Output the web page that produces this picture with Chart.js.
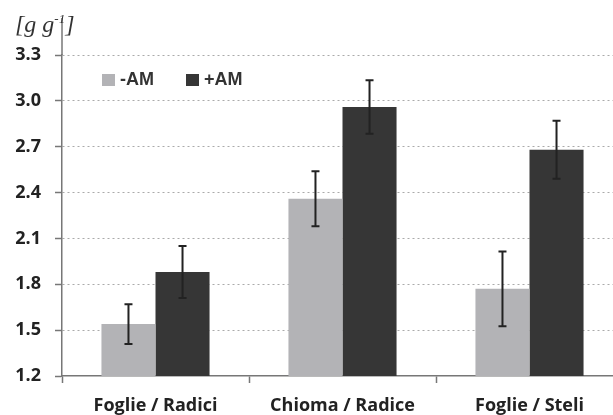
<!DOCTYPE html>
<html>
<head>
<meta charset="utf-8">
<script src="https://cdn.jsdelivr.net/npm/chart.js@4"></script>
<style>
  html, body { margin: 0; padding: 0; background: #fff; overflow: hidden; }
  #wrap { position: relative; width: 625px; height: 415px; }
  #unit {
    position: absolute; left: 15px; top: 11px;
    font-family: "Liberation Serif", serif; font-style: italic;
    font-size: 24px; color: #333;
  }
  #unit sup { font-size: 13px; }
</style>
</head>
<body>
<div id="wrap">
  <canvas id="chart" width="625" height="415"></canvas>
  <div id="unit">[g g<sup>-1</sup>]</div>
</div>
<script>
// data
const categories = ['Foglie / Radici', 'Chioma / Radice', 'Foglie / Steli'];
const seriesNames = ['-AM', '+AM'];
const minusAM = [1.54, 2.36, 1.77];
const plusAM = [1.88, 2.96, 2.68];
const minusAMErr = [0.13, 0.18, 0.245];
const plusAMErr = [0.17, 0.175, 0.19];
const yTicks = [1.2, 1.5, 1.8, 2.1, 2.4, 2.7, 3.0, 3.3];

const errors = [minusAMErr, plusAMErr];
const colors = ['#b3b3b6', '#363636'];
const labelFont = { family: 'Open Sans', size: 18, weight: 'bold' };

// Error bars
const errorBarPlugin = {
    id: 'errorBars',
    afterDatasetsDraw(chart) {
        const ctx = chart.ctx;
        const yScale = chart.scales.y;
        ctx.save();
        ctx.strokeStyle = '#222';
        ctx.lineWidth = 2;
        chart.data.datasets.forEach((ds, di) => {
            const meta = chart.getDatasetMeta(di);
            meta.data.forEach((bar, i) => {
                const v = ds.data[i];
                const e = errors[di][i];
                const top = yScale.getPixelForValue(v + e);
                const bottom = yScale.getPixelForValue(v - e);
                ctx.beginPath();
                ctx.moveTo(bar.x, top);
                ctx.lineTo(bar.x, bottom);
                ctx.moveTo(bar.x - 4, top);
                ctx.lineTo(bar.x + 4, top);
                ctx.moveTo(bar.x - 4, bottom);
                ctx.lineTo(bar.x + 4, bottom);
                ctx.stroke();
            });
        });
        ctx.restore();
    }
};

// Legend inside plot + y axis line running up past the top tick
const legendPlugin = {
    id: 'innerLegend',
    afterDraw(chart) {
        const ctx = chart.ctx;
        const area = chart.chartArea;
        ctx.save();
        ctx.strokeStyle = '#777';
        ctx.lineWidth = 1.5;
        ctx.beginPath();
        ctx.moveTo(area.left, 18);
        ctx.lineTo(area.left, area.top);
        ctx.stroke();

        ctx.font = 'bold 18px "Liberation Sans"';
        ctx.textBaseline = 'middle';
        let x = 102;
        const y = 80;
        chart.data.datasets.forEach(ds => {
            ctx.fillStyle = ds.backgroundColor;
            ctx.fillRect(x, y - 6, 13, 12);
            ctx.fillStyle = '#333';
            ctx.fillText(ds.label, x + 18, y);
            x += 84;
        });
        ctx.restore();
    }
};

const chart = new Chart(document.getElementById('chart').getContext('2d'), {
    type: 'bar',
    data: {
        labels: categories,
        datasets: [
            { label: seriesNames[0], data: minusAM, backgroundColor: colors[0] },
            { label: seriesNames[1], data: plusAM, backgroundColor: colors[1] }
        ]
    },
    options: {
        responsive: false,
        animation: false,
        layout: { padding: { top: 55, right: 2, left: 0, bottom: 0 } },
        datasets: {
            bar: { barPercentage: 1, categoryPercentage: 0.578 }
        },
        plugins: {
            legend: { display: false },
            tooltip: { enabled: false }
        },
        scales: {
            x: {
                offset: true,
                afterFit: s => { s.height = 39; },
                grid: {
                    offset: true,
                    drawOnChartArea: false,
                    tickLength: 7,
                    tickColor: '#777',
                    tickWidth: 1.5
                },
                border: { color: '#777', width: 1.5 },
                ticks: {
                    padding: 12,
                    color: '#222',
                    font: labelFont
                }
            },
            y: {
                min: 1.2,
                max: 3.3,
                afterFit: s => { s.width = 62; },
                afterBuildTicks: s => { s.ticks = yTicks.map(v => ({ value: v })); },
                grid: {
                    color: ctx => ctx.tick && ctx.tick.value === 1.2 ? 'rgba(0,0,0,0)' : '#aaa',
                    lineWidth: 1,
                    tickLength: 7,
                    tickColor: '#777',
                    tickWidth: 1.5,
                    tickBorderDash: []
                },
                border: { color: '#777', width: 1.5, dash: [2, 3] },
                ticks: {
                    padding: 14,
                    color: '#222',
                    font: labelFont,
                    callback: v => Number(v).toFixed(1)
                }
            }
        }
    },
    plugins: [errorBarPlugin, legendPlugin]
});
</script>
</body>
</html>
